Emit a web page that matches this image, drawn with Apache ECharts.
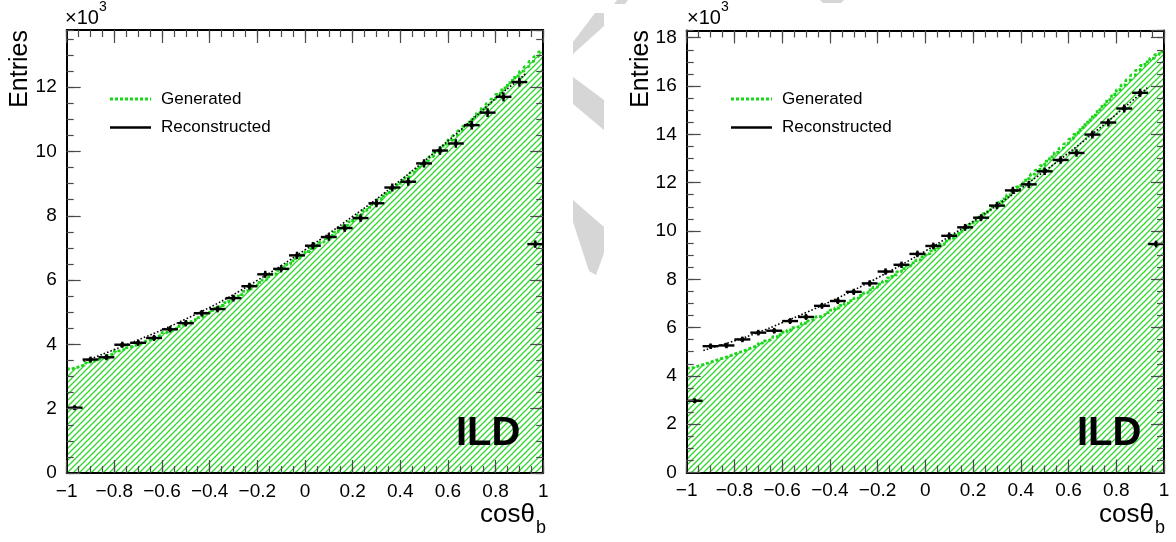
<!DOCTYPE html>
<html>
<head>
<meta charset="utf-8">
<script src="https://cdn.jsdelivr.net/npm/echarts@6/dist/echarts.min.js"></script>
<style>
  html, body { margin: 0; padding: 0; background: #fff; }
  #chart { width: 1176px; height: 542px; }
</style>
</head>
<body>
<div id="chart"></div>
<script>
// cos(theta_b) range shared by both panels
const X_MIN = -1, X_MAX = 1;

// Reconstructed entries (x10^3), 30 bins in cos(theta_b)
const recoLeft = [2.03, 3.53, 3.60, 3.99, 4.05, 4.20, 4.47, 4.66, 4.97, 5.10,
                  5.44, 5.81, 6.18, 6.35, 6.77, 7.07, 7.34, 7.62, 7.93, 8.39,
                  8.88, 9.06, 9.63, 10.03, 10.25, 10.82, 11.21, 11.70, 12.16, 7.12];
const recoRight = [2.97, 5.23, 5.26, 5.51, 5.79, 5.87, 6.27, 6.44, 6.90, 7.10,
                   7.48, 7.83, 8.32, 8.60, 9.05, 9.38, 9.80, 10.15, 10.55, 11.05,
                   11.68, 11.93, 12.47, 12.94, 13.23, 13.99, 14.49, 15.07, 15.72, 9.46];

// Generated entries (x10^3), 100 bins in cos(theta_b)
const genLeft = [3.24, 3.27, 3.33, 3.37, 3.45, 3.49, 3.55, 3.59, 3.66, 3.72,
                 3.80, 3.83, 3.90, 3.94, 4.00, 4.06, 4.12, 4.18, 4.24, 4.30,
                 4.37, 4.43, 4.49, 4.56, 4.62, 4.70, 4.75, 4.83, 4.89, 4.97,
                 5.06, 5.13, 5.21, 5.30, 5.38, 5.48, 5.55, 5.65, 5.73, 5.83,
                 5.93, 6.01, 6.11, 6.19, 6.30, 6.41, 6.49, 6.60, 6.68, 6.78,
                 6.89, 6.98, 7.09, 7.18, 7.29, 7.39, 7.49, 7.61, 7.70, 7.81,
                 7.93, 8.04, 8.16, 8.26, 8.37, 8.50, 8.61, 8.73, 8.85, 8.96,
                 9.09, 9.21, 9.34, 9.45, 9.58, 9.71, 9.84, 9.97, 10.10, 10.23,
                 10.37, 10.50, 10.64, 10.78, 10.91, 11.06, 11.20, 11.35, 11.49, 11.63,
                 11.78, 11.92, 12.06, 12.21, 12.35, 12.50, 12.64, 12.80, 12.95, 13.10];
const genRight = [4.32, 4.38, 4.44, 4.50, 4.57, 4.63, 4.70, 4.76, 4.82, 4.90,
                  4.97, 5.04, 5.12, 5.19, 5.27, 5.36, 5.45, 5.53, 5.62, 5.71,
                  5.81, 5.90, 6.00, 6.08, 6.18, 6.28, 6.36, 6.45, 6.53, 6.62,
                  6.72, 6.81, 6.92, 7.01, 7.12, 7.22, 7.33, 7.44, 7.56, 7.67,
                  7.80, 7.92, 8.06, 8.18, 8.32, 8.44, 8.56, 8.68, 8.80, 8.93,
                  9.05, 9.18, 9.31, 9.44, 9.58, 9.70, 9.84, 9.98, 10.13, 10.27,
                  10.42, 10.57, 10.72, 10.87, 11.02, 11.17, 11.33, 11.49, 11.66, 11.82,
                  11.99, 12.17, 12.35, 12.52, 12.70, 12.89, 13.07, 13.25, 13.43, 13.61,
                  13.80, 14.00, 14.19, 14.40, 14.60, 14.80, 15.02, 15.23, 15.44, 15.65,
                  15.85, 16.05, 16.25, 16.45, 16.65, 16.85, 17.00, 17.15, 17.30, 17.42];

// Fitted curve through the reconstructed distribution (x10^3)
const fitX = [-0.93, -0.9, -0.8, -0.7, -0.6, -0.5, -0.4, -0.3, -0.2, -0.1, 0,
              0.1, 0.2, 0.3, 0.4, 0.5, 0.6, 0.7, 0.8, 0.9, 0.93];
const fitLeft = [3.48, 3.55, 3.84, 4.14, 4.45, 4.79, 5.15, 5.55, 5.99, 6.45, 6.94,
                 7.45, 7.98, 8.52, 9.10, 9.70, 10.33, 10.98, 11.65, 12.25, 12.45];
const fitRight = [5.05, 5.15, 5.45, 5.80, 6.20, 6.62, 7.07, 7.55, 8.06, 8.60, 9.17,
                  9.77, 10.40, 11.06, 11.76, 12.48, 13.23, 14.02, 14.83, 15.67, 15.93];

// Axis ticks
const xMajorStep = 0.2, xMinorStep = 0.05;
const yMajorStep = 2, yMinorStep = 0.5;
const yMaxLeft = 13.78, yMaxRight = 18.30;

const FONT = '"Liberation Sans", Arial, Helvetica, sans-serif';
const GREEN_LINE = '#19d619';
const HATCH_GREEN = '#2ed62e';

function binEdges(n) {
  const e = [];
  for (let i = 0; i <= n; i++) e.push(X_MIN + (X_MAX - X_MIN) * i / n);
  return e;
}
// histogram outline as step points at the bin low edges, closed at x = 1
function stepData(vals) {
  const e = binEdges(vals.length);
  const d = vals.map((v, i) => [e[i], v]);
  d.push([e[vals.length], vals[vals.length - 1]]);
  return d;
}
function recoData(vals) {
  const e = binEdges(vals.length);
  return vals.map((v, i) => [e[i], e[i + 1], v]);
}
function fitData(vals) { return fitX.map((x, i) => [x, vals[i]]); }

// diagonal hatch tile (white ground, green strokes) for the generated histogram fill
function hatchTile() {
  const s = 6;
  const c = document.createElement('canvas');
  c.width = s; c.height = s;
  const g = c.getContext('2d');
  g.fillStyle = '#ffffff';
  g.fillRect(0, 0, s, s);
  g.strokeStyle = HATCH_GREEN;
  g.lineWidth = 1.25;
  g.beginPath();
  g.moveTo(0, s); g.lineTo(s, 0);
  g.moveTo(-1, 1); g.lineTo(1, -1);
  g.moveTo(s - 1, s + 1); g.lineTo(s + 1, s - 1);
  g.stroke();
  return c.toDataURL('image/png');
}
const hatch = hatchTile();

function fmtX(v) {
  const r = Math.round(v * 10) / 10;
  return r < 0 ? '\u2212' + Math.abs(r) : String(r);
}

const tickStyle = { color: '#4a4a4a', width: 1.2 };
const frameStyle = { color: '#000', width: 2 };

function xAxesFor(gi) {
  const base = { type: 'value', gridIndex: gi, min: X_MIN, max: X_MAX, splitLine: { show: false } };
  return [
    Object.assign({}, base, {
      position: 'bottom', interval: xMajorStep, z: 5,
      axisLine: { show: true, onZero: false, lineStyle: frameStyle },
      axisTick: { show: true, inside: true, length: 13, lineStyle: tickStyle },
      axisLabel: { show: true, margin: 9, color: '#000', fontSize: 19, fontFamily: FONT,
                   formatter: fmtX, showMinLabel: true, showMaxLabel: true }
    }),
    Object.assign({}, base, {
      position: 'bottom', interval: xMinorStep, z: 5,
      axisLine: { show: false, onZero: false },
      axisTick: { show: true, inside: true, length: 7, lineStyle: tickStyle },
      axisLabel: { show: false }
    }),
    Object.assign({}, base, {
      position: 'top', interval: xMajorStep, z: 5,
      axisLine: { show: true, onZero: false, lineStyle: frameStyle },
      axisTick: { show: true, inside: true, length: 13, lineStyle: tickStyle },
      axisLabel: { show: false }
    }),
    Object.assign({}, base, {
      position: 'top', interval: xMinorStep, z: 5,
      axisLine: { show: false, onZero: false },
      axisTick: { show: true, inside: true, length: 7, lineStyle: tickStyle },
      axisLabel: { show: false }
    })
  ];
}

function yAxesFor(gi, max) {
  const base = { type: 'value', gridIndex: gi, min: 0, max: max, splitLine: { show: false } };
  return [
    Object.assign({}, base, {
      position: 'left', interval: yMajorStep, z: 5,
      axisLine: { show: true, onZero: false, lineStyle: frameStyle },
      axisTick: { show: true, inside: true, length: 14, lineStyle: tickStyle },
      axisLabel: { show: true, margin: 10, color: '#000', fontSize: 19, fontFamily: FONT,
                   showMaxLabel: false, formatter: v => String(Math.round(v)) }
    }),
    Object.assign({}, base, {
      position: 'left', interval: yMinorStep, z: 5,
      axisLine: { show: false, onZero: false },
      axisTick: { show: true, inside: true, length: 7, lineStyle: tickStyle },
      axisLabel: { show: false }
    }),
    Object.assign({}, base, {
      position: 'right', interval: yMajorStep, z: 5,
      axisLine: { show: true, onZero: false, lineStyle: frameStyle },
      axisTick: { show: true, inside: true, length: 13, lineStyle: tickStyle },
      axisLabel: { show: false }
    }),
    Object.assign({}, base, {
      position: 'right', interval: yMinorStep, z: 5,
      axisLine: { show: false, onZero: false },
      axisTick: { show: true, inside: true, length: 7, lineStyle: tickStyle },
      axisLabel: { show: false }
    })
  ];
}

function renderReco(params, api) {
  const x0 = api.value(0), x1 = api.value(1), v = api.value(2);
  const err = Math.sqrt(v * 1000) / 1000;   // Poisson error, in units of 10^3
  const xc = (x0 + x1) / 2;
  const pL = api.coord([x0, v]), pR = api.coord([x1, v]);
  const pT = api.coord([xc, v + err]), pB = api.coord([xc, v - err]);
  const pC = api.coord([xc, v]);
  const s = { stroke: '#000', lineWidth: 2.4 };
  return {
    type: 'group',
    children: [
      { type: 'line', shape: { x1: pL[0], y1: pL[1], x2: pR[0], y2: pR[1] }, style: s },
      { type: 'line', shape: { x1: pC[0], y1: pT[1] - 1, x2: pC[0], y2: pB[1] + 1 }, style: s },
      { type: 'circle', shape: { cx: pC[0], cy: pC[1], r: 2.2 }, style: { fill: '#000' } }
    ]
  };
}

function panelSeries(axisIdx, gen, reco, fit) {
  return [
    {
      type: 'line', xAxisIndex: axisIdx, yAxisIndex: axisIdx,
      data: stepData(gen), step: 'end', symbol: 'none', z: 2,
      color: GREEN_LINE,
      lineStyle: { color: GREEN_LINE, width: 2.8, type: [3, 2] },
      areaStyle: { color: { image: hatch, repeat: 'repeat' }, opacity: 1 },
      silent: true, animation: false
    },
    {
      type: 'line', xAxisIndex: axisIdx, yAxisIndex: axisIdx,
      data: fitData(fit), smooth: true, symbol: 'none', z: 3,
      lineStyle: { color: '#000', width: 1.6, type: [1.6, 2] },
      silent: true, animation: false
    },
    {
      type: 'custom', xAxisIndex: axisIdx, yAxisIndex: axisIdx,
      data: recoData(reco), renderItem: renderReco, z: 4,
      encode: { x: [0, 1], y: 2 },
      silent: true, animation: false
    }
  ];
}

// panel decorations: axis titles, exponent, legend, experiment tag
function panelText(p) {
  const els = [];
  els.push({ type: 'text', x: p.titleX, y: 30, rotation: Math.PI / 2,
             style: { text: 'Entries', font: '25px ' + FONT, fill: '#000', align: 'right', verticalAlign: 'middle' } });
  els.push({ type: 'text', x: p.expX, y: 18,
             style: { text: '\u00d710', font: '20px ' + FONT, fill: '#000', align: 'left', verticalAlign: 'middle' } });
  els.push({ type: 'text', x: p.expX + 34, y: 7,
             style: { text: '3', font: '14px ' + FONT, fill: '#000', align: 'left', verticalAlign: 'middle' } });
  els.push({ type: 'text', x: p.cosX, y: 515,
             style: { text: 'cos\u03b8', font: '26px ' + FONT, fill: '#000', align: 'right', verticalAlign: 'middle' } });
  els.push({ type: 'text', x: p.cosX + 1, y: 528,
             style: { text: 'b', font: '18px ' + FONT, fill: '#000', align: 'left', verticalAlign: 'middle' } });
  els.push({ type: 'line', shape: { x1: p.legX, y1: 99, x2: p.legX + 41, y2: 99 },
             style: { stroke: GREEN_LINE, lineWidth: 2.8, lineDash: [3, 2] } });
  els.push({ type: 'line', shape: { x1: p.legX, y1: 127.5, x2: p.legX + 41, y2: 127.5 },
             style: { stroke: '#000', lineWidth: 2.5 } });
  els.push({ type: 'text', x: p.legX + 51, y: 99,
             style: { text: 'Generated', font: '17px ' + FONT, fill: '#000', align: 'left', verticalAlign: 'middle' } });
  els.push({ type: 'text', x: p.legX + 51, y: 127.5,
             style: { text: 'Reconstructed', font: '17px ' + FONT, fill: '#000', align: 'left', verticalAlign: 'middle' } });
  els.push({ type: 'text', x: p.ildX, y: 434, z: 10,
             style: { text: 'ILD', font: 'bold 40px ' + FONT, fill: '#000', align: 'left', verticalAlign: 'middle' } });
  return els;
}

// faint background lettering between the two pads
const shade = '#d6d6d6';
const backdrop = [
  [[595, 13], [604, 13], [604, 26], [573, 54], [573, 42]],
  [[573, 77], [604, 100], [604, 130], [573, 104]],
  [[573, 200], [604, 227], [604, 253], [596, 275], [589, 271], [573, 222]],
  [[617, 0], [628, 0], [625, 4], [614, 4]],
  [[820, 0], [844, 0], [841, 3], [823, 3]]
].map(pts => ({ type: 'polygon', z: -10, shape: { points: pts }, style: { fill: shade } }));

const chart = echarts.init(document.getElementById('chart'), null, { renderer: 'canvas' });
chart.setOption({
  backgroundColor: '#fff',
  animation: false,
  grid: [
    { left: 66.7, top: 30, width: 476.5, height: 443, containLabel: false, outerBoundsMode: 'none' },
    { left: 686.7, top: 30.5, width: 477.3, height: 442, containLabel: false, outerBoundsMode: 'none' }
  ],
  xAxis: xAxesFor(0).concat(xAxesFor(1)),
  yAxis: yAxesFor(0, yMaxLeft).concat(yAxesFor(1, yMaxRight)),
  series: panelSeries(0, genLeft, recoLeft, fitLeft).concat(panelSeries(4, genRight, recoRight, fitRight)),
  graphic: { elements: backdrop.concat(
    panelText({ titleX: 20, expX: 65, cosX: 535, legX: 110, ildX: 456 }),
    panelText({ titleX: 641, expX: 687, cosX: 1154, legX: 731, ildX: 1077 })
  ) }
});
</script>
</body>
</html>
